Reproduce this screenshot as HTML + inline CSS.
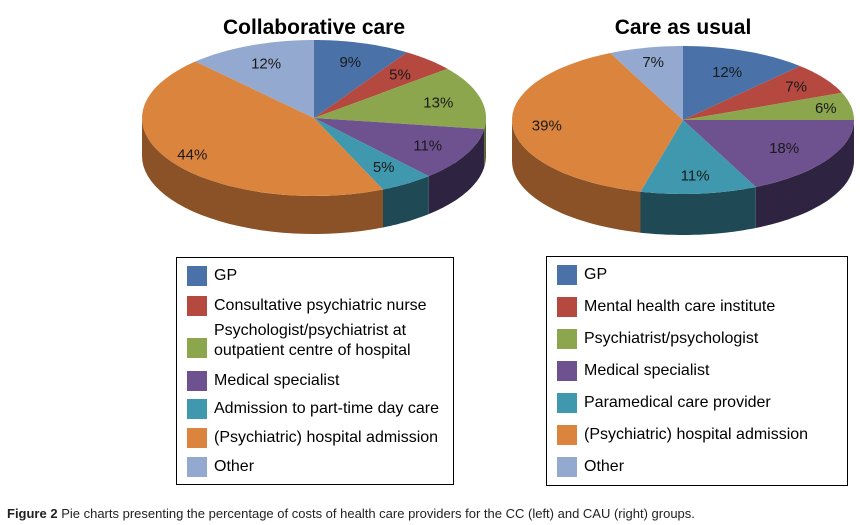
<!DOCTYPE html>
<html><head><meta charset="utf-8">
<style>
body{margin:0;background:#fff;width:860px;height:525px;overflow:hidden;font-family:"Liberation Sans",Arial,sans-serif}
svg{position:absolute;left:0;top:0}
.leg{position:absolute;border:1px solid #000;background:#fff}
.row{position:absolute;left:10px;font-size:16px;color:#000;line-height:20px}
.sw{position:absolute;left:0;width:20px;height:20px}
.row span{position:absolute;left:27px;white-space:nowrap}
.cap{position:absolute;left:7px;top:506px;font-size:13px;color:#222;font-family:"Liberation Sans Narrow","Liberation Sans",sans-serif;white-space:nowrap}
</style></head><body>
<svg id="chart" width="860" height="500"></svg>

<div class="leg" style="left:176px;top:257px;width:276px;height:226px">
 <div class="row" style="top:8px"><div class="sw" style="background:#4a72a8"></div><span>GP</span></div>
 <div class="row" style="top:38px"><div class="sw" style="background:#b5483f"></div><span>Consultative psychiatric nurse</span></div>
 <div class="row" style="top:80px"><div class="sw" style="background:#8ba64c"></div><span style="top:-17px">Psychologist/psychiatrist at<br>outpatient centre of hospital</span></div>
 <div class="row" style="top:113px"><div class="sw" style="background:#6e5290"></div><span>Medical specialist</span></div>
 <div class="row" style="top:141px"><div class="sw" style="background:#3f98ad"></div><span>Admission to part-time day care</span></div>
 <div class="row" style="top:170px"><div class="sw" style="background:#db843d"></div><span>(Psychiatric) hospital admission</span></div>
 <div class="row" style="top:199px"><div class="sw" style="background:#93a9cf"></div><span>Other</span></div>
</div>

<div class="leg" style="left:546px;top:256px;width:300px;height:228px">
 <div class="row" style="top:8px"><div class="sw" style="background:#4a72a8"></div><span>GP</span></div>
 <div class="row" style="top:40px"><div class="sw" style="background:#b5483f"></div><span>Mental health care institute</span></div>
 <div class="row" style="top:72px"><div class="sw" style="background:#8ba64c"></div><span>Psychiatrist/psychologist</span></div>
 <div class="row" style="top:104px"><div class="sw" style="background:#6e5290"></div><span>Medical specialist</span></div>
 <div class="row" style="top:136px"><div class="sw" style="background:#3f98ad"></div><span>Paramedical care provider</span></div>
 <div class="row" style="top:168px"><div class="sw" style="background:#db843d"></div><span>(Psychiatric) hospital admission</span></div>
 <div class="row" style="top:200px"><div class="sw" style="background:#93a9cf"></div><span>Other</span></div>
</div>

<div class="cap"><b>Figure 2</b> Pie charts presenting the percentage of costs of health care providers for the CC (left) and CAU (right) groups.</div>

<script>
const categories = ["GP","Nurse/Mental health","Psychologist/Psychiatrist","Medical specialist","Day care/Paramedical","Hospital admission","Other"];
const ccValues = [9,5,13,11,5,44,12];
const cauValues = [12,7,6,18,11,39,7];
const colors = ["#4a72a8","#b5483f","#8ba64c","#6e5290","#3f98ad","#db843d","#93a9cf"];
const sideColors = ["#2c4568","#6d2b26","#53642d","#2e2340","#1f4a55","#8a5226","#58657c"];

const svg = document.getElementById('chart');
const NS = "http://www.w3.org/2000/svg";
function mk(tag, attrs){const e=document.createElementNS(NS,tag);for(const k in attrs)e.setAttribute(k,attrs[k]);return e;}

function drawPie(values, cx, cy, rx, ry, depth, title, name, lf){
  const total = values.reduce((a,b)=>a+b,0);
  const g = mk('g',{});
  
  
  svg.appendChild(g);
  const t = mk('text',{x:cx,y:34,'text-anchor':'middle','font-size':'21','font-weight':'bold','font-family':'Liberation Sans, sans-serif'});
  t.textContent = title;
  
  
  g.appendChild(t);
  const pt=(th,dy)=>[cx+rx*Math.cos(th), cy+ry*Math.sin(th)+(dy||0)];
  let acc=0; const slices=[];
  values.forEach((v,i)=>{const a1=-Math.PI/2+acc/total*2*Math.PI; acc+=v; const a2=-Math.PI/2+acc/total*2*Math.PI; slices.push([a1,a2,i,v]);});
  slices.forEach(([a1,a2,i])=>{
    const segs=[[a1,a2],[a1-2*Math.PI,a2-2*Math.PI],[a1+2*Math.PI,a2+2*Math.PI]];
    segs.forEach(([s,e])=>{
      const b1=Math.max(s,0), b2=Math.min(e,Math.PI);
      if(b2<=b1) return;
      let d=''; const N=30;
      for(let k=0;k<=N;k++){const p=pt(b1+(b2-b1)*k/N);d+=(k?'L':'M')+p[0].toFixed(1)+','+p[1].toFixed(1);}
      for(let k=N;k>=0;k--){const p=pt(b1+(b2-b1)*k/N,depth);d+='L'+p[0].toFixed(1)+','+p[1].toFixed(1);}
      const side=mk('path',{d:d+'Z',fill:sideColors[i]});
      
      
      g.appendChild(side);
    });
  });
  slices.forEach(([a1,a2,i,v])=>{
    let d='M'+cx+','+cy; const N=40;
    for(let k=0;k<=N;k++){const p=pt(a1+(a2-a1)*k/N);d+='L'+p[0].toFixed(1)+','+p[1].toFixed(1);}
    const top=mk('path',{d:d+'Z',fill:colors[i]});
    
    
    g.appendChild(top);
    const m=(a1+a2)/2, f=lf[i];
    const lp=[cx+rx*f*Math.cos(m), cy+ry*f*Math.sin(m)+5];
    const lb=mk('text',{x:lp[0].toFixed(1),y:lp[1].toFixed(1),'text-anchor':'middle','font-size':'15','fill':'#1a1a1a','font-family':'Liberation Sans, sans-serif'});
    lb.textContent=v+'%';
    
    
    g.appendChild(lb);
  });
}
drawPie(ccValues, 314, 118, 172, 78, 38, "Collaborative care", "pie-collaborative-care", [0.75,0.75,0.75,0.75,0.75,0.85,0.75]);
drawPie(cauValues, 683, 120, 171, 74, 41, "Care as usual", "pie-care-as-usual", [0.7,0.8,0.85,0.7,0.75,0.8,0.8]);
</script>
</body></html>
